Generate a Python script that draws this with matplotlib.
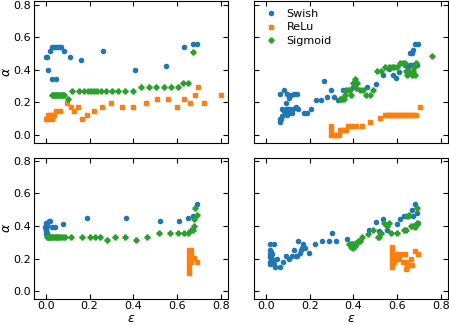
import matplotlib
matplotlib.use("Agg")
import matplotlib.pyplot as plt

# top left panel
swish_x_a = [0.0, 0.005, 0.012, 0.021, 0.027, 0.036, 0.045, 0.054, 0.063, 0.070, 0.028, 0.045, 0.084, 0.11, 0.163, 0.26, 0.407, 0.547, 0.632, 0.673, 0.692]
swish_y_a = [0.48, 0.48, 0.40, 0.516, 0.536, 0.536, 0.536, 0.536, 0.536, 0.536, 0.344, 0.344, 0.516, 0.48, 0.46, 0.516, 0.40, 0.42, 0.536, 0.556, 0.556]
relu_x_a = [0.0, 0.008, 0.028, 0.012, 0.019, 0.026, 0.033, 0.039, 0.046, 0.064, 0.096, 0.117, 0.129, 0.145, 0.166, 0.19, 0.22, 0.256, 0.299, 0.347, 0.40, 0.456, 0.51, 0.559, 0.60, 0.632, 0.658, 0.679, 0.697, 0.724, 0.798]
relu_y_a = [0.098, 0.098, 0.098, 0.122, 0.122, 0.122, 0.122, 0.122, 0.146, 0.146, 0.195, 0.171, 0.146, 0.171, 0.098, 0.122, 0.146, 0.171, 0.195, 0.171, 0.171, 0.195, 0.22, 0.22, 0.171, 0.22, 0.195, 0.244, 0.293, 0.195, 0.244]
sig_x_a = [0.028, 0.033, 0.038, 0.043, 0.048, 0.053, 0.058, 0.063, 0.068, 0.073, 0.078, 0.085, 0.10, 0.121, 0.154, 0.175, 0.191, 0.208, 0.221, 0.236, 0.254, 0.277, 0.303, 0.33, 0.362, 0.398, 0.434, 0.471, 0.505, 0.541, 0.573, 0.602, 0.628, 0.65, 0.674]
sig_y_a = [0.244, 0.244, 0.244, 0.244, 0.244, 0.244, 0.244, 0.244, 0.244, 0.244, 0.244, 0.244, 0.22, 0.268, 0.268, 0.268, 0.268, 0.268, 0.268, 0.268, 0.268, 0.268, 0.268, 0.268, 0.268, 0.268, 0.293, 0.293, 0.293, 0.293, 0.293, 0.293, 0.317, 0.317, 0.51]

# top right panel
swish_x_b = [0.067, 0.083, 0.098, 0.091, 0.106, 0.113, 0.128, 0.141, 0.076, 0.091, 0.101, 0.112, 0.094, 0.104, 0.083, 0.098, 0.064, 0.071, 0.067, 0.074, 0.119, 0.123, 0.138, 0.149, 0.173, 0.19, 0.205, 0.228, 0.25, 0.265, 0.28, 0.298, 0.31, 0.329, 0.351, 0.399, 0.463, 0.501, 0.533, 0.562, 0.58, 0.595, 0.607, 0.637, 0.659, 0.65, 0.671, 0.689, 0.659, 0.666, 0.674, 0.68, 0.693]
swish_y_b = [0.25, 0.272, 0.25, 0.192, 0.226, 0.242, 0.25, 0.25, 0.156, 0.156, 0.156, 0.156, 0.136, 0.136, 0.146, 0.122, 0.096, 0.096, 0.08, 0.116, 0.132, 0.156, 0.172, 0.156, 0.136, 0.136, 0.156, 0.212, 0.212, 0.33, 0.23, 0.272, 0.23, 0.212, 0.272, 0.292, 0.29, 0.31, 0.366, 0.406, 0.366, 0.346, 0.386, 0.426, 0.426, 0.406, 0.426, 0.426, 0.5, 0.5, 0.52, 0.556, 0.556]
relu_x_b = [0.298, 0.298, 0.298, 0.305, 0.312, 0.319, 0.326, 0.333, 0.338, 0.345, 0.352, 0.359, 0.366, 0.373, 0.38, 0.392, 0.41, 0.437, 0.474, 0.519,
            0.544, 0.551, 0.558, 0.565, 0.572, 0.579, 0.586, 0.593, 0.600, 0.607, 0.614, 0.621, 0.628, 0.635, 0.642, 0.649, 0.656, 0.663, 0.670, 0.677, 0.684, 0.706]
relu_y_b = [0.052, 0.026, 0.0, 0.0, 0.0, 0.0, 0.0, 0.0, 0.026, 0.026, 0.026, 0.026, 0.026, 0.052, 0.052, 0.052, 0.052, 0.052, 0.076, 0.1,
            0.122, 0.122, 0.122, 0.122, 0.122, 0.122, 0.122, 0.122, 0.122, 0.122, 0.122, 0.122, 0.122, 0.122, 0.122, 0.122, 0.122, 0.122, 0.122, 0.122, 0.122, 0.172]
sig_x_b = [0.340, 0.345, 0.350, 0.357, 0.362, 0.366, 0.373, 0.384, 0.390, 0.396, 0.402, 0.406, 0.410, 0.414, 0.429, 0.444, 0.456, 0.474, 0.489, 0.507, 0.526, 0.546, 0.564, 0.576, 0.586, 0.598, 0.612, 0.624, 0.635, 0.640, 0.655, 0.670, 0.644, 0.665, 0.683, 0.686, 0.758, 0.676]
sig_y_b = [0.222, 0.222, 0.222, 0.222, 0.246, 0.272, 0.272, 0.272, 0.246, 0.32, 0.32, 0.342, 0.288, 0.316, 0.272, 0.272, 0.246, 0.246, 0.272, 0.39, 0.39, 0.414, 0.414, 0.414, 0.414, 0.414, 0.44, 0.44, 0.44, 0.39, 0.39, 0.39, 0.366, 0.366, 0.366, 0.44, 0.486, 0.414]

# bottom left panel
swish_x_c = [0.0, 0.004, -0.004, 0.003, 0.0, 0.006, 0.002, 0.005, 0.0, 0.013, 0.02, 0.028, 0.044, 0.078, 0.19, 0.365, 0.52, 0.61, 0.65, 0.673, 0.689]
swish_y_c = [0.416, 0.406, 0.392, 0.382, 0.37, 0.358, 0.352, 0.40, 0.376, 0.428, 0.428, 0.396, 0.396, 0.412, 0.448, 0.448, 0.428, 0.428, 0.448, 0.464, 0.536]
relu_x_c = [0.655, 0.655, 0.655, 0.655, 0.655, 0.655, 0.655, 0.662, 0.662, 0.662, 0.67, 0.678, 0.692, 0.662]
relu_y_c = [0.25, 0.227, 0.203, 0.18, 0.156, 0.132, 0.11, 0.25, 0.227, 0.203, 0.203, 0.203, 0.18, 0.18]
sig_x_c = [0.005, 0.01, 0.015, 0.02, 0.025, 0.03, 0.035, 0.04, 0.045, 0.05, 0.055, 0.06, 0.07, 0.08, 0.09, 0.115, 0.167, 0.2, 0.223, 0.248, 0.278, 0.315, 0.36, 0.41, 0.463, 0.517, 0.565, 0.602, 0.632, 0.65, 0.664, 0.67, 0.676, 0.676, 0.692, 0.68]
sig_y_c = [0.332, 0.332, 0.332, 0.332, 0.332, 0.332, 0.332, 0.332, 0.332, 0.332, 0.332, 0.332, 0.332, 0.332, 0.332, 0.332, 0.332, 0.332, 0.332, 0.332, 0.311, 0.332, 0.332, 0.311, 0.335, 0.356, 0.356, 0.356, 0.356, 0.356, 0.378, 0.378, 0.40, 0.444, 0.468, 0.512]

# bottom right panel
swish_x_d = [0.018, 0.039, 0.02, 0.024, 0.017, 0.029, 0.021, 0.027, 0.018, 0.031, 0.021, 0.036, 0.043, 0.063, 0.051, 0.078, 0.093, 0.108, 0.121, 0.129, 0.136, 0.144, 0.148, 0.154, 0.159, 0.166, 0.17, 0.181, 0.197, 0.223, 0.256, 0.287, 0.304, 0.322, 0.372, 0.473, 0.503, 0.517, 0.535, 0.555, 0.6, 0.614, 0.63, 0.65, 0.667, 0.68, 0.688, 0.693, 0.674]
swish_y_d = [0.287, 0.287, 0.251, 0.237, 0.227, 0.227, 0.211, 0.197, 0.181, 0.181, 0.165, 0.165, 0.145, 0.145, 0.197, 0.181, 0.217, 0.197, 0.217, 0.251, 0.217, 0.217, 0.305, 0.235, 0.251, 0.265, 0.287, 0.267, 0.235, 0.287, 0.305, 0.305, 0.358, 0.305, 0.322, 0.376, 0.426, 0.37, 0.446, 0.378, 0.412, 0.446, 0.46, 0.46, 0.5, 0.536, 0.48, 0.416, 0.46]
relu_x_d = [0.574, 0.574, 0.574, 0.574, 0.574, 0.574, 0.574, 0.583, 0.594, 0.598, 0.616, 0.634, 0.609, 0.624, 0.646, 0.638, 0.661, 0.668, 0.679, 0.694, 0.646, 0.583]
relu_y_d = [0.27, 0.25, 0.23, 0.21, 0.19, 0.17, 0.15, 0.177, 0.2, 0.225, 0.225, 0.225, 0.2, 0.177, 0.177, 0.135, 0.2, 0.16, 0.247, 0.225, 0.155, 0.2]
sig_x_d = [0.378, 0.385, 0.392, 0.398, 0.405, 0.412, 0.39, 0.40, 0.408, 0.42, 0.428, 0.437, 0.466, 0.489, 0.511, 0.517, 0.526, 0.541, 0.555, 0.564, 0.571, 0.601, 0.631, 0.641, 0.646, 0.654, 0.661, 0.672, 0.684, 0.691, 0.68, 0.69]
sig_y_d = [0.29, 0.29, 0.29, 0.29, 0.29, 0.29, 0.272, 0.265, 0.278, 0.305, 0.31, 0.33, 0.35, 0.378, 0.33, 0.335, 0.358, 0.42, 0.4, 0.42, 0.356, 0.356, 0.378, 0.378, 0.462, 0.466, 0.4, 0.4, 0.404, 0.42, 0.392, 0.512]

panels = [
    (swish_x_a, swish_y_a, relu_x_a, relu_y_a, sig_x_a, sig_y_a),
    (swish_x_b, swish_y_b, relu_x_b, relu_y_b, sig_x_b, sig_y_b),
    (swish_x_c, swish_y_c, relu_x_c, relu_y_c, sig_x_c, sig_y_c),
    (swish_x_d, swish_y_d, relu_x_d, relu_y_d, sig_x_d, sig_y_d),
]

fig, axs = plt.subplots(2, 2, figsize=(4.49, 3.25), dpi=100, sharex=True, sharey=True)
fig.subplots_adjust(left=0.076, right=0.998, bottom=0.08, top=0.996, wspace=0.135, hspace=0.107)

for ax, (sx, sy, rx, ry, gx, gy) in zip(axs.flat, panels):
    ax.plot(sx, sy, 'o', color='C0', ms=3.0, ls='', label='Swish')
    ax.plot(rx, ry, 's', color='C1', ms=2.9, ls='', label='ReLu')
    ax.plot(gx, gy, 'P', color='C2', ms=3.5, ls='', label='Sigmoid')
    ax.tick_params(direction='in', top=True, right=True, labelsize=8)
    ax.tick_params(axis='x', pad=1.5)
    ax.tick_params(axis='y', pad=2.5)

axs[0, 0].set_xlim(-0.053, 0.832)
axs[0, 0].set_ylim(-0.049, 0.82)
axs[0, 0].set_xticks([0.0, 0.2, 0.4, 0.6, 0.8])
axs[0, 0].set_yticks([0.0, 0.2, 0.4, 0.6, 0.8])

for ax in axs[:, 0]:
    ax.set_ylabel(r'$\alpha$', fontsize=9)
    ax.yaxis.set_label_coords(-0.108, 0.5)
for ax in axs[1, :]:
    ax.set_xlabel(r'$\varepsilon$', fontsize=9)
    ax.xaxis.set_label_coords(0.5, -0.092)

axs[0, 1].legend(loc='upper left', frameon=False, fontsize=8, labelspacing=0.3,
                 handletextpad=0.6, handlelength=1.6, borderaxespad=0.3)

plt.savefig('out.png')
